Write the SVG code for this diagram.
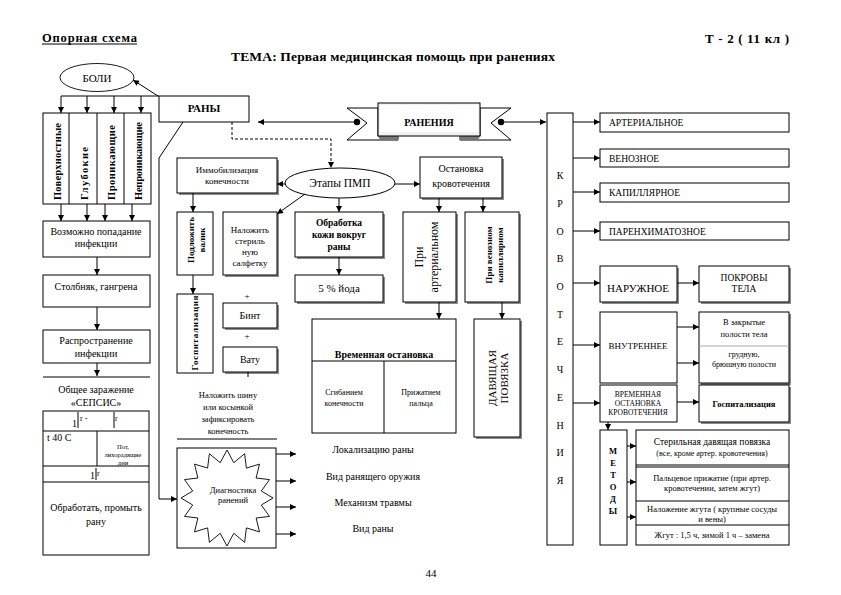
<svg xmlns="http://www.w3.org/2000/svg" width="841" height="595" viewBox="0 0 841 595" font-family="'Liberation Serif', 'DejaVu Serif', 'Noto Serif', serif">
<defs>
<style>
.b{fill:#fff;stroke:#000;stroke-width:1}
.sh{fill:#8c8c8c}
.l{stroke:#000;stroke-width:1;fill:none}
.d{stroke:#000;stroke-width:1;fill:none;stroke-dasharray:3,2}
.a{marker-end:url(#ah)}
text{font-family:'Liberation Serif','DejaVu Serif','Noto Serif',serif;fill:#000}
.c{text-anchor:middle}
.bd{font-weight:bold}
</style>
<marker id="ah" viewBox="0 0 10 10" refX="10" refY="5" markerWidth="7" markerHeight="6" orient="auto" markerUnits="userSpaceOnUse"><path d="M0,0 L10,5 L0,10 z" fill="#000"/></marker>
</defs>
<rect width="841" height="595" fill="#fff"/>

<g id="header">
<text x="42" y="42" font-size="12.5" class="bd" textLength="95">Опорная схема</text>
<line x1="42" y1="44" x2="137" y2="44" stroke="#000" stroke-width="1"/>
<text x="705" y="43" font-size="13" class="bd" textLength="84">Т - 2 ( 11 кл )</text>
<text x="231" y="61" font-size="13.5" class="bd" textLength="324">ТЕМА: Первая медицинская помощь при ранениях</text>
</g>

<g id="boli">
<ellipse cx="97" cy="77.5" rx="37" ry="14" fill="#fff" stroke="#000" stroke-width="0.9"/>
<text x="97" y="82" font-size="11" class="c">БОЛИ</text>
</g>

<g id="rany">
<rect class="b" x="159" y="96" width="90" height="26"/>
<text x="204" y="112" font-size="11" class="c bd">РАНЫ</text>
</g>

<g id="vidy">
<rect class="b" x="43" y="113" width="108" height="91"/>
<line class="l" x1="69" y1="113" x2="69" y2="204"/>
<line class="l" x1="97" y1="113" x2="97" y2="204"/>
<line class="l" x1="124" y1="113" x2="124" y2="204"/>
<text transform="translate(61,200) rotate(-90)" font-size="10.5" class="bd" textLength="77">Поверхностные</text>
<text transform="translate(88,200) rotate(-90)" font-size="10.5" class="bd" textLength="53">Глубокие</text>
<text transform="translate(115,200) rotate(-90)" font-size="10.5" class="bd" textLength="75">Проникающие</text>
<text transform="translate(142,200) rotate(-90)" font-size="10.5" class="bd" textLength="78">Непроникающие</text>
</g>

<g id="infekciya">
<rect class="b" x="43" y="221" width="107" height="36"/>
<text x="96" y="235" font-size="10" class="c">Возможно попадание</text>
<text x="96" y="247" font-size="10" class="c">инфекции</text>
</g>

<g id="stolbnyak">
<rect class="b" x="43" y="275" width="107" height="32"/>
<text x="96" y="290" font-size="10" class="c">Столбняк, гангрена</text>
</g>

<g id="rasprostranenie">
<rect class="b" x="43" y="330" width="107" height="33"/>
<text x="96" y="344" font-size="10" class="c">Распространение</text>
<text x="96" y="357" font-size="10" class="c">инфекции</text>
</g>

<g id="sepsis">
<line class="l" x1="43" y1="377" x2="150" y2="377"/>
<text x="96" y="393" font-size="10" class="c">Общее заражение</text>
<text x="96" y="406" font-size="10" class="c">«СЕПСИС»</text>
</g>

<g id="sepsis-table">
<rect class="b" x="43" y="411" width="106" height="144"/>
<line class="l" x1="43" y1="431" x2="149" y2="431"/>
<line class="l" x1="43" y1="466" x2="149" y2="466"/>
<line class="l" x1="43" y1="482" x2="149" y2="482"/>
<line class="l" x1="97" y1="431" x2="97" y2="466"/>
<text x="72" y="427" font-size="10">1</text>
<line class="l" x1="78" y1="412" x2="78" y2="428"/>
<text x="80" y="421" font-size="8">r  -</text>
<line class="l" x1="114" y1="412" x2="114" y2="428"/>
<text x="115" y="421" font-size="8">r</text>
<text x="47" y="441" font-size="10">t 40 C</text>
<text x="123" y="449" font-size="6.5" class="c">Пот,</text>
<text x="123" y="457" font-size="6.5" class="c">лихорадящие</text>
<text x="123" y="465" font-size="6.5" class="c">дни</text>
<text x="90" y="479" font-size="10">1</text>
<line class="l" x1="96" y1="468" x2="96" y2="480"/>
<text x="97" y="476" font-size="8">r</text>
<text x="96" y="511" font-size="10" class="c">Обработать, промыть</text>
<text x="96" y="525" font-size="10" class="c">рану</text>
</g>

<g id="raneniya">
<polygon points="378,108 347,108 367,123 347,140 398,140 398,136 378,136" fill="#fff" stroke="#000"/>
<polygon points="378,136 398,136 398,140 380,140" fill="#777"/>
<polygon points="480,108 511,108 491,123 511,140 460,140 460,136 480,136" fill="#fff" stroke="#000"/>
<polygon points="460,136 480,136 478,140 460,140" fill="#777"/>
<rect x="378" y="103" width="102" height="33" fill="#f2f2f2" stroke="#000"/>
<rect x="380" y="105" width="98" height="27" fill="#fff"/>
<text x="429" y="126" font-size="10" class="c bd">РАНЕНИЯ</text>
</g>

<g id="etapy">
<ellipse cx="340" cy="183" rx="55" ry="15" fill="#fff" stroke="#000"/>
<text x="340" y="187" font-size="11.5" class="c">Этапы ПМП</text>
</g>

<g id="immobilizaciya">
<rect class="sh" x="179" y="160" width="100" height="35"/>
<rect class="b" x="177" y="158" width="100" height="35"/>
<text x="227" y="173" font-size="9" class="c">Иммобилизация</text>
<text x="227" y="184" font-size="9" class="c">конечности</text>
</g>

<g id="ostanovka">
<rect class="sh" x="422" y="159" width="82" height="41"/>
<rect class="b" x="420" y="157" width="82" height="41"/>
<text x="461" y="172" font-size="10" class="c">Остановка</text>
<text x="461" y="187" font-size="10" class="c">кровотечения</text>
</g>

<g id="podlozhit">
<rect class="b" x="177" y="212" width="36" height="63"/>
<text transform="translate(194,240) rotate(-90)" font-size="9" class="c bd">Подложить</text>
<text transform="translate(205,240) rotate(-90)" font-size="9" class="c bd">валик</text>
</g>

<g id="salfetka">
<rect class="sh" x="225" y="214" width="54" height="63"/>
<rect class="b" x="223" y="212" width="54" height="63"/>
<text x="250" y="233" font-size="9" class="c">Наложить</text>
<text x="250" y="244" font-size="9" class="c">стериль</text>
<text x="250" y="255" font-size="9" class="c">ную</text>
<text x="250" y="266" font-size="9" class="c">салфетку</text>
</g>

<g id="gospitalizaciya-left">
<rect class="b" x="177" y="294" width="36" height="79"/>
<text transform="translate(198,333) rotate(-90)" font-size="9" class="c bd" textLength="75">Госпитализация</text>
</g>

<g id="bint">
<rect class="sh" x="225" y="305" width="54" height="25"/>
<rect class="b" x="223" y="303" width="54" height="25"/>
<text x="250" y="319" font-size="10" class="c">Бинт</text>
</g>

<g id="vatu">
<rect class="sh" x="225" y="349" width="54" height="25"/>
<rect class="b" x="223" y="347" width="54" height="25"/>
<text x="250" y="363" font-size="10" class="c">Вату</text>
</g>

<g id="plus">
<text x="247" y="299" font-size="9" class="c">+</text>
<text x="247" y="339" font-size="9" class="c">+</text>
<line class="l" x1="248" y1="372" x2="248" y2="377"/>
</g>

<g id="shina">
<text x="228" y="398" font-size="8.5" class="c">Наложить шину</text>
<text x="228" y="410" font-size="8.5" class="c">или косынкой</text>
<text x="228" y="422" font-size="8.5" class="c">зафиксировать</text>
<text x="228" y="434" font-size="8.5" class="c">конечность</text>
<line class="l" x1="177" y1="439" x2="277" y2="439"/>
</g>

<g id="diagnostika">
<rect class="b" x="177" y="448" width="99" height="100"/>
<polygon fill="#fff" stroke="#000" stroke-width="0.9" points="273,498 261.3,505 269.5,516.4 256.1,518 259.5,531.9 246.4,527.9 244.6,542.3 233.8,533.3 227,546 220.2,533.3 209.4,542.3 207.6,527.9 194.5,531.9 197.9,518 184.5,516.4 192.7,505 181,498 192.7,491 184.5,479.6 197.9,478 194.5,464.1 207.6,468.1 209.4,453.7 220.2,462.7 227,450 233.8,462.7 244.6,453.7 246.4,468.1 259.5,464.1 256.1,478 269.5,479.6 261.3,491"/>
<text x="233" y="493" font-size="8.5" class="c">Диагностика</text>
<text x="233" y="503" font-size="8.5" class="c">ранений</text>
</g>

<g id="diag-items">
<text x="373" y="453" font-size="10" class="c">Локализацию раны</text>
<text x="373" y="480" font-size="10" class="c">Вид ранящего оружия</text>
<text x="373" y="506" font-size="10" class="c">Механизм травмы</text>
<text x="373" y="532" font-size="10" class="c">Вид раны</text>
</g>

<g id="obrabotka">
<rect class="sh" x="297" y="214" width="88" height="45"/>
<rect class="b" x="295" y="212" width="88" height="45"/>
<text x="339" y="226" font-size="9.5" class="c bd">Обработка</text>
<text x="339" y="238" font-size="9.5" class="c bd">кожи вокруг</text>
<text x="339" y="250" font-size="9.5" class="c bd">раны</text>
</g>

<g id="jod">
<rect class="sh" x="297" y="277" width="88" height="27"/>
<rect class="b" x="295" y="275" width="88" height="27"/>
<text x="339" y="292" font-size="11" class="c">5 % йода</text>
</g>

<g id="pri-arterialnom">
<rect class="sh" x="405" y="214" width="53" height="90"/>
<rect class="b" x="403" y="212" width="53" height="90"/>
<text transform="translate(423,257) rotate(-90)" font-size="12" class="c">При</text>
<text transform="translate(438,257) rotate(-90)" font-size="12" class="c">артериальном</text>
</g>

<g id="pri-venoznom">
<rect class="sh" x="467" y="214" width="54" height="90"/>
<rect class="b" x="465" y="212" width="54" height="90"/>
<text transform="translate(492,255) rotate(-90)" font-size="9" class="c bd">При венозном</text>
<text transform="translate(503,255) rotate(-90)" font-size="9" class="c bd">капиллярном</text>
</g>

<g id="vremennaya">
<rect class="b" x="312" y="319" width="144" height="114"/>
<line class="l" x1="312" y1="361" x2="456" y2="361"/>
<line class="l" x1="384" y1="361" x2="384" y2="433"/>
<text x="384" y="358" font-size="10" class="c bd">Временная остановка</text>
<text x="344" y="395" font-size="8" class="c">Сгибанием</text>
<text x="344" y="406" font-size="8" class="c">конечности</text>
<text x="421" y="395" font-size="8" class="c">Прижатием</text>
<text x="421" y="406" font-size="8" class="c">пальца</text>
</g>

<g id="davyashchaya">
<rect class="sh" x="476" y="321" width="46" height="118"/>
<rect class="b" x="474" y="319" width="46" height="118"/>
<text transform="translate(496,378) rotate(-90)" font-size="11" class="c">ДАВЯЩАЯ</text>
<text transform="translate(508,378) rotate(-90)" font-size="11" class="c">ПОВЯЗКА</text>
</g>

<g id="krovotecheniya">
<rect class="b" x="547" y="113" width="26" height="432"/>
<text x="560" y="179" font-size="10" class="c">К</text>
<text x="560" y="207" font-size="10" class="c">Р</text>
<text x="560" y="235" font-size="10" class="c">О</text>
<text x="560" y="262" font-size="10" class="c">В</text>
<text x="560" y="290" font-size="10" class="c">О</text>
<text x="560" y="318" font-size="10" class="c">Т</text>
<text x="560" y="345" font-size="10" class="c">Е</text>
<text x="560" y="373" font-size="10" class="c">Ч</text>
<text x="560" y="401" font-size="10" class="c">Е</text>
<text x="560" y="429" font-size="10" class="c">Н</text>
<text x="560" y="456" font-size="10" class="c">И</text>
<text x="560" y="484" font-size="10" class="c">Я</text>
</g>

<g id="arterialnoe">
<rect class="b" x="600" y="113" width="189" height="19"/>
<text x="609" y="126" font-size="9.5">АРТЕРИАЛЬНОЕ</text>
</g>
<g id="venoznoe">
<rect class="b" x="600" y="149" width="189" height="18"/>
<text x="609" y="162" font-size="9.5">ВЕНОЗНОЕ</text>
</g>
<g id="kapillyarnoe">
<rect class="b" x="600" y="183" width="189" height="19"/>
<text x="609" y="196" font-size="9.5">КАПИЛЛЯРНОЕ</text>
</g>
<g id="parenhimatoznoe">
<rect class="b" x="600" y="222" width="189" height="18"/>
<text x="609" y="235" font-size="9.5">ПАРЕНХИМАТОЗНОЕ</text>
</g>

<g id="naruzhnoe">
<rect class="sh" x="602" y="268" width="77" height="36"/>
<rect class="b" x="600" y="266" width="77" height="36"/>
<text x="638" y="292" font-size="11" class="c">НАРУЖНОЕ</text>
</g>
<g id="pokrovy">
<rect class="sh" x="701" y="268" width="90" height="36"/>
<rect class="b" x="699" y="266" width="90" height="36"/>
<text x="744" y="281" font-size="9.5" class="c">ПОКРОВЫ</text>
<text x="744" y="292" font-size="9.5" class="c">ТЕЛА</text>
</g>

<g id="vnutrennee">
<rect class="b" x="600" y="312" width="77" height="71"/>
<text x="638" y="349" font-size="9" class="c">ВНУТРЕННЕЕ</text>
</g>
<g id="polosti">
<rect class="sh" x="701" y="314" width="90" height="71"/>
<rect class="b" x="699" y="312" width="90" height="71"/>
<line x1="699" y1="346" x2="789" y2="346" stroke="#aaa" stroke-width="1"/>
<text x="744" y="325" font-size="8.5" class="c">В закрытые</text>
<text x="744" y="337" font-size="8.5" class="c">полости тела</text>
<text x="744" y="357" font-size="8" class="c">грудную,</text>
<text x="744" y="367" font-size="8" class="c">брюшную полости</text>
</g>

<g id="vremennaya-ostanovka">
<rect class="b" x="600" y="385" width="77" height="37"/>
<text x="638" y="397" font-size="7.5" class="c">ВРЕМЕННАЯ</text>
<text x="638" y="406" font-size="7.5" class="c">ОСТАНОВКА</text>
<text x="638" y="415" font-size="7.5" class="c">КРОВОТЕЧЕНИЯ</text>
</g>
<g id="gospitalizaciya-right">
<rect class="sh" x="701" y="387" width="90" height="37"/>
<rect class="b" x="699" y="385" width="90" height="37"/>
<text x="744" y="407" font-size="8.5" class="c bd">Госпитализация</text>
</g>

<g id="metody">
<rect class="b" x="600" y="430" width="27" height="115"/>
<text x="613" y="454" font-size="8.5" class="c bd">М</text>
<text x="613" y="466" font-size="8.5" class="c bd">Е</text>
<text x="613" y="478" font-size="8.5" class="c bd">Т</text>
<text x="613" y="490" font-size="8.5" class="c bd">О</text>
<text x="613" y="502" font-size="8.5" class="c bd">Д</text>
<text x="613" y="514" font-size="8.5" class="c bd">Ы</text>
</g>

<g id="metody-list">
<rect class="b" x="636" y="430" width="153" height="115"/>
<line class="l" x1="636" y1="465" x2="789" y2="465"/>
<line class="l" x1="636" y1="467" x2="789" y2="467"/>
<line class="l" x1="636" y1="501" x2="789" y2="501"/>
<line class="l" x1="636" y1="525" x2="789" y2="525"/>
<text x="712" y="445" font-size="9.5" class="c">Стерильная давящая повязка</text>
<text x="712" y="456" font-size="8" class="c">(все, кроме артер. кровотечения)</text>
<text x="712" y="481" font-size="8.5" class="c">Пальцевое прижатие (при артер.</text>
<text x="712" y="491" font-size="8.5" class="c">кровотечении, затем жгут)</text>
<text x="712" y="512" font-size="8.5" class="c">Наложение жгута ( крупные сосуды</text>
<text x="712" y="522" font-size="8.5" class="c">и вены)</text>
<text x="712" y="538" font-size="8.5" class="c">Жгут : 1,5 ч, зимой 1 ч – замена</text>
</g>

<g id="page-number">
<text x="431" y="577" font-size="11" class="c">44</text>
</g>

<g id="connectors">
<line class="l a" x1="158" y1="96" x2="133" y2="80"/>
<polyline class="l" points="61,96 159,96"/>
<line class="l a" x1="61" y1="96" x2="61" y2="113"/>
<line class="l a" x1="87" y1="96" x2="87" y2="113"/>
<line class="l a" x1="114" y1="96" x2="114" y2="113"/>
<line class="l a" x1="141" y1="96" x2="141" y2="113"/>
<line class="l a" x1="61" y1="204" x2="61" y2="221"/>
<line class="l a" x1="87" y1="204" x2="87" y2="221"/>
<line class="l a" x1="105" y1="204" x2="105" y2="221"/>
<line class="l a" x1="132" y1="204" x2="132" y2="221"/>
<line class="l a" x1="97" y1="257" x2="97" y2="275"/>
<line class="l a" x1="97" y1="307" x2="97" y2="330"/>
<line class="l a" x1="97" y1="363" x2="97" y2="376"/>
<polyline class="l a" points="183,122 159,158 159,499 177,499"/>
<line class="l a" x1="357" y1="122" x2="258" y2="122"/>
<circle cx="357" cy="122" r="3.2" fill="#000"/>
<circle cx="501" cy="122" r="3.2" fill="#000"/>
<line class="l a" x1="501" y1="122" x2="546" y2="122"/>
<polyline class="d a" points="232,122 232,139 331,139 331,168"/>
<line class="l a" x1="285" y1="184" x2="277" y2="184"/>
<line class="l a" x1="395" y1="184" x2="420" y2="184"/>
<line class="l a" x1="305" y1="194" x2="277" y2="214"/>
<line class="l a" x1="339" y1="198" x2="339" y2="212"/>
<line class="l a" x1="339" y1="257" x2="339" y2="275"/>
<line class="l a" x1="439" y1="198" x2="439" y2="212"/>
<line class="l a" x1="483" y1="198" x2="483" y2="212"/>
<line class="l a" x1="193" y1="193" x2="193" y2="212"/>
<line class="l a" x1="193" y1="275" x2="193" y2="294"/>
<line class="l a" x1="439" y1="302" x2="439" y2="319"/>
<line class="l a" x1="502" y1="302" x2="502" y2="319"/>
<line class="l a" x1="276" y1="454" x2="296" y2="454"/>
<line class="l a" x1="276" y1="481" x2="296" y2="481"/>
<line class="l a" x1="276" y1="507" x2="296" y2="507"/>
<line class="l a" x1="276" y1="534" x2="296" y2="534"/>
<line class="l a" x1="573" y1="122" x2="600" y2="122"/>
<line class="l a" x1="573" y1="158" x2="600" y2="158"/>
<line class="l a" x1="573" y1="192" x2="600" y2="192"/>
<line class="l a" x1="573" y1="231" x2="600" y2="231"/>
<line class="l a" x1="573" y1="283" x2="600" y2="283"/>
<line class="l a" x1="677" y1="283" x2="699" y2="283"/>
<line class="l a" x1="573" y1="345" x2="600" y2="345"/>
<line class="l a" x1="677" y1="327" x2="699" y2="327"/>
<line class="l a" x1="677" y1="363" x2="699" y2="363"/>
<line class="l a" x1="573" y1="403" x2="600" y2="403"/>
<line class="l a" x1="677" y1="402" x2="699" y2="402"/>
<line class="l a" x1="608" y1="422" x2="608" y2="430"/>
<line class="l a" x1="627" y1="446" x2="636" y2="446"/>
<line class="l a" x1="627" y1="482" x2="636" y2="482"/>
<line class="l a" x1="627" y1="517" x2="636" y2="517"/>
</g>
</svg>
